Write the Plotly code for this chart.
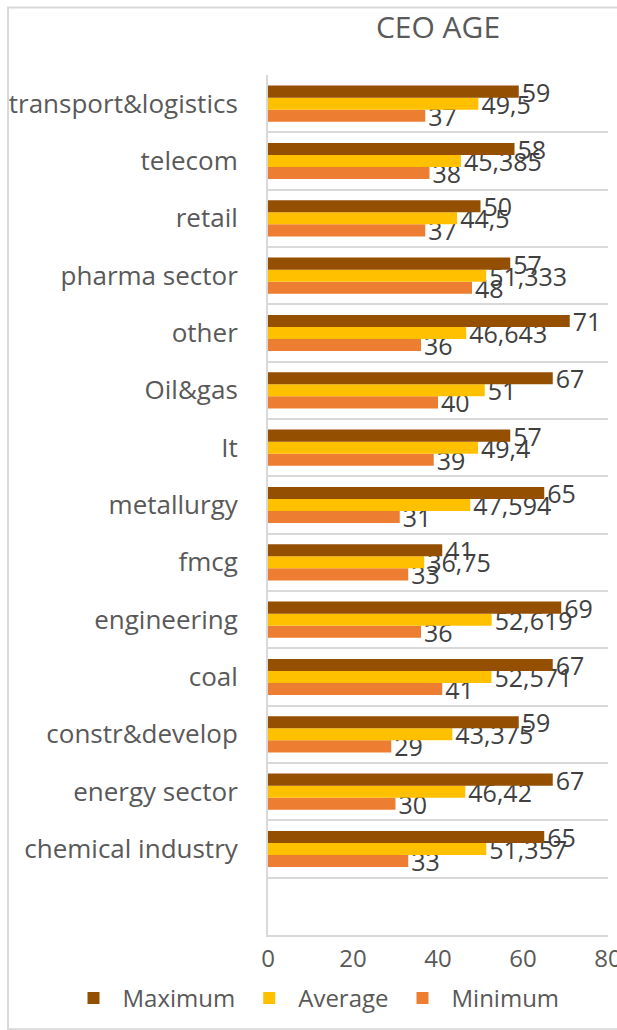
import plotly.graph_objects as go

# Industries, listed bottom-to-top as plotly places categories on a horizontal bar axis
industries = [
    "chemical industry", "energy sector", "constr&develop", "coal", "engineering",
    "fmcg", "metallurgy", "It", "Oil&gas", "other", "pharma sector", "retail",
    "telecom", "transport&logistics",
]
maximum = [65, 67, 59, 67, 69, 41, 65, 57, 67, 71, 57, 50, 58, 59]
average = [51.357, 46.42, 43.375, 52.571, 52.619, 36.75, 47.594, 49.4, 51, 46.643, 51.333, 44.5, 45.385, 49.5]
minimum = [33, 30, 29, 41, 36, 33, 31, 39, 40, 36, 48, 37, 38, 37]
x_ticks = [0, 20, 40, 60, 80]

FONT = "Open Sans"
GREY = "#595959"
LABEL = "#404040"


def fmt(v):
    return f"{v:g}".replace(".", ",")


fig = go.Figure()
series = [
    ("Minimum", minimum, "#ED7D31", 3),
    ("Average", average, "#FFC000", 2),
    ("Maximum", maximum, "#954F00", 1),
]
for name, vals, color, rank in series:
    fig.add_trace(go.Bar(
        name=name, y=industries, x=vals, orientation="h",
        marker=dict(color=color, line=dict(width=0)),
        text=[fmt(v) for v in vals], textposition="outside",
        textfont=dict(family=FONT, size=25, color=LABEL),
        constraintext="none", cliponaxis=False, legendrank=rank,
    ))

fig.update_layout(
    width=617, height=1030,
    margin=dict(l=268, r=9, t=75, b=95),
    paper_bgcolor="white", plot_bgcolor="white",
    barmode="group", bargap=0.37, bargroupgap=0,
    title=dict(text="CEO AGE", x=0.5, xref="paper", y=0.973, yanchor="middle",
               font=dict(family=FONT, size=30, color=GREY)),
    showlegend=True,
    legend=dict(orientation="h", x=-0.5985, xanchor="left", y=-0.100, yanchor="bottom",
                font=dict(family=FONT, size=24, color=GREY), itemwidth=48,
                bgcolor="rgba(0,0,0,0)", borderwidth=0),
    xaxis=dict(range=[0, 80], tickvals=x_ticks, showgrid=False, zeroline=False,
               showline=True, linecolor="#d9d9d9", linewidth=2, automargin=False,
               tickfont=dict(family=FONT, size=24, color=GREY), ticks="",
               ticklabelstandoff=1, ticklabeloverflow="allow"),
    yaxis=dict(type="category", categoryorder="array", categoryarray=industries,
               range=[-1.5, 13.5], tickson="boundaries", showgrid=True,
               gridcolor="#d9d9d9", gridwidth=2, showline=True, linecolor="#d9d9d9",
               linewidth=2, ticks="", ticklabelstandoff=23, automargin=False,
               tickfont=dict(family=FONT, size=26, color=GREY)),
    shapes=[dict(type="rect", xref="paper", yref="paper",
                 x0=-0.7647, x1=1.6, y0=-0.1095, y1=1.0785,
                 line=dict(color="#d9d9d9", width=2), layer="below")],
)

fig.write_html("out.html")
